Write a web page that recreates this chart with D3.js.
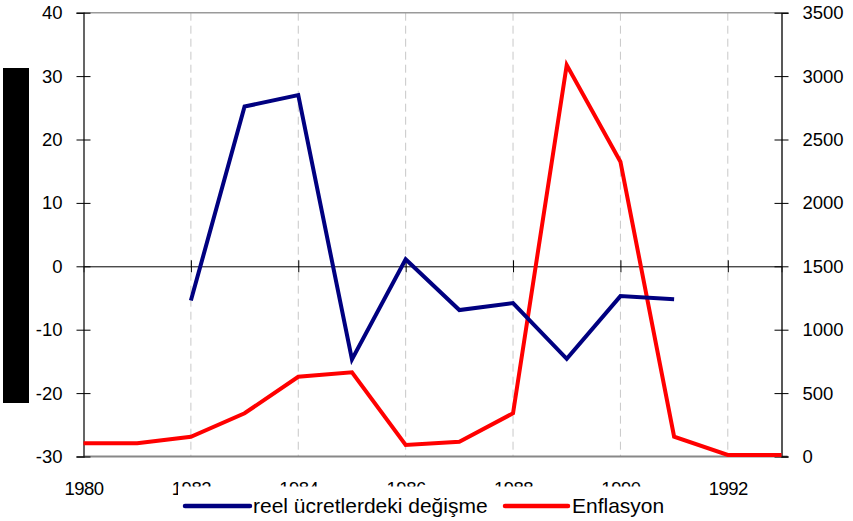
<!DOCTYPE html>
<html>
<head>
<meta charset="utf-8">
<script src="https://cdn.jsdelivr.net/npm/d3@7"></script>
<style>
  html, body { margin: 0; padding: 0; background: #fff; }
  svg { display: block; }
  text { font-family: "Liberation Sans", Arial, sans-serif; fill: #000; }
</style>
</head>
<body>
<svg id="chart" width="853" height="521"></svg>
<script>
// ---- data ----
const years = [1980, 1981, 1982, 1983, 1984, 1985, 1986, 1987, 1988, 1989, 1990, 1991, 1992, 1993];
const wageYears = [1982, 1983, 1984, 1985, 1986, 1987, 1988, 1989, 1990, 1991];
const wageChange = [-5.4, 25.2, 27.0, -14.7, 1.1, -6.9, -5.8, -14.6, -4.7, -5.2];
const inflation = [104, 104, 156, 341, 629, 664, 91, 117, 341, 3087, 2325, 156, 12, 12];
const xTickYears = [1980, 1982, 1984, 1986, 1988, 1990, 1992];
const leftTicks = [-30, -20, -10, 0, 10, 20, 30, 40];
const rightTicks = [0, 500, 1000, 1500, 2000, 2500, 3000, 3500];
const seriesNames = ["reel ücretlerdeki değişme", "Enflasyon"];
const seriesColors = ["#000080", "#ff0000"];

// ---- layout ----
const svg = d3.select("#chart");
const pL = 83.5, pR = 781.5, pT = 12.7, pB = 456.5;

const x = d3.scaleLinear().domain([1980, 1993]).range([pL, pR]);
const yL = d3.scaleLinear().domain([-30, 40]).range([pB, pT]);
const yR = d3.scaleLinear().domain([0, 3500]).range([pB, pT]);

// black block at far left
svg.append("rect").attr("x", 3).attr("y", 68).attr("width", 26).attr("height", 335).attr("fill", "#000");

// vertical dashed gridlines
svg.append("g").selectAll("line")
  .data(xTickYears.filter(d => d > 1980))
  .join("line")
  .attr("x1", d => x(d)).attr("x2", d => x(d))
  .attr("y1", pT).attr("y2", pB)
  .attr("stroke", "#c8c8c8").attr("stroke-width", 1)
  .attr("stroke-dasharray", "8,5");

// top border
svg.append("line").attr("x1", pL).attr("x2", pR).attr("y1", pT).attr("y2", pT)
  .attr("stroke", "#9a9a9a").attr("stroke-width", 1.5);
// bottom border
svg.append("line").attr("x1", pL).attr("x2", pR + 6).attr("y1", pB).attr("y2", pB)
  .attr("stroke", "#888").attr("stroke-width", 2);

// zero line with ticks (x axis crosses at 0)
const zeroAxis = svg.append("g").attr("transform", `translate(0,${yL(0)})`)
  .call(d3.axisBottom(x).tickValues(xTickYears.filter(d => d > 1980)).tickFormat("").tickSizeOuter(0).tickSize(6));
zeroAxis.select(".domain").attr("stroke", "#000").attr("stroke-width", 1);
zeroAxis.selectAll(".tick line").attr("y1", -6).attr("y2", 6).attr("stroke", "#000");

// left axis
const gL = svg.append("g").attr("transform", `translate(${pL},0)`)
  .call(d3.axisLeft(yL).tickValues(leftTicks).tickSizeOuter(0).tickSize(7).tickPadding(14).tickFormat(d3.format("d")));
gL.select(".domain").attr("stroke", "#333").attr("stroke-width", 1.5);
gL.selectAll(".tick line").attr("x1", 7).attr("x2", -7).attr("stroke", "#000");
gL.selectAll(".tick text").style("font-size", "18.5px").style("font-family", "Liberation Sans, Arial, sans-serif")
  .text(d => d < 0 ? "-" + Math.abs(d) : d);

// right axis
const gR = svg.append("g").attr("transform", `translate(${pR},0)`)
  .call(d3.axisRight(yR).tickValues(rightTicks).tickSizeOuter(0).tickSize(7).tickPadding(14).tickFormat(d3.format("d")));
gR.select(".domain").attr("stroke", "#222").attr("stroke-width", 1.5);
gR.selectAll(".tick line").attr("x1", -7).attr("x2", 7).attr("stroke", "#000");
gR.selectAll(".tick text").style("font-size", "18.5px").style("font-family", "Liberation Sans, Arial, sans-serif");

// bottom labels
const gB = svg.append("g").attr("transform", `translate(0,${pB})`)
  .call(d3.axisBottom(x).tickValues(xTickYears).tickSize(0).tickPadding(0).tickFormat(d3.format("d")));
gB.select(".domain").remove();
gB.selectAll(".tick text").attr("y", 38.5).attr("dy", null)
  .style("font-size", "18.5px").style("font-family", "Liberation Sans, Arial, sans-serif")
  .attr("letter-spacing", "-0.5");

// lines
const lineW = d3.line().x((d, i) => x(wageYears[i])).y(d => yL(d));
const lineI = d3.line().x((d, i) => x(years[i])).y(d => yR(d));

svg.append("path").datum(inflation).attr("d", lineI)
  .attr("fill", "none").attr("stroke", seriesColors[1]).attr("stroke-width", 4).attr("stroke-linejoin", "miter");
svg.append("path").datum(wageChange).attr("d", lineW)
  .attr("fill", "none").attr("stroke", seriesColors[0]).attr("stroke-width", 4).attr("stroke-linejoin", "miter");

// legend (white box overlapping axis labels)
const lg = svg.append("g");
lg.append("rect").attr("x", 178).attr("y", 486.5).attr("width", 505).attr("height", 40).attr("fill", "#fff");
const items = [
  { name: seriesNames[0], color: seriesColors[0], x1: 185, x2: 250, tx: 253 },
  { name: seriesNames[1], color: seriesColors[1], x1: 505, x2: 568, tx: 572 }
];
items.forEach(it => {
  lg.append("line").attr("x1", it.x1).attr("x2", it.x2).attr("y1", 506).attr("y2", 506)
    .attr("stroke", it.color).attr("stroke-width", 4.5).attr("stroke-linecap", "round");
  lg.append("text").attr("x", it.tx).attr("y", 512.5).text(it.name)
    .style("font-size", "21px");
});
</script>
</body>
</html>
